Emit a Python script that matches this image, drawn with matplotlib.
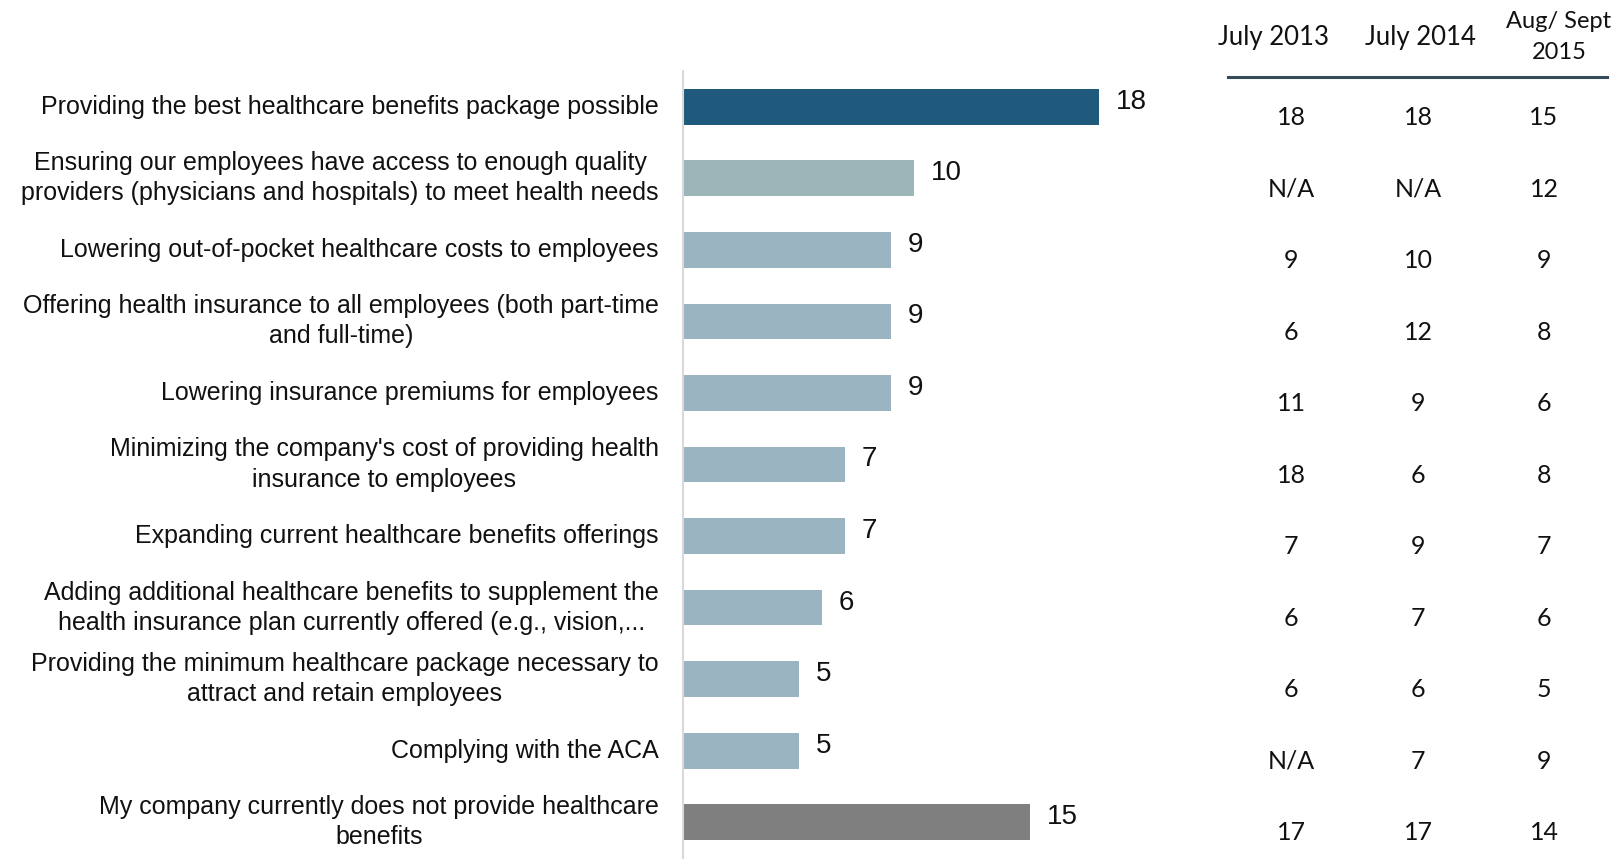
import matplotlib.pyplot as plt
from matplotlib import transforms

# Priorities for company healthcare benefits, latest wave shown as bars
categories = [
    "Providing the best healthcare benefits package possible",
    "Ensuring our employees have access to enough quality\nproviders (physicians and hospitals) to meet health needs",
    "Lowering out-of-pocket healthcare costs to employees",
    "Offering health insurance to all employees (both part-time\nand full-time)",
    "Lowering insurance premiums for employees",
    "Minimizing the company's cost of providing health\ninsurance to employees",
    "Expanding current healthcare benefits offerings",
    "Adding additional healthcare benefits to supplement the\nhealth insurance plan currently offered (e.g., vision,...",
    "Providing the minimum healthcare package necessary to\nattract and retain employees",
    "Complying with the ACA",
    "My company currently does not provide healthcare\nbenefits",
]
values = [18, 10, 9, 9, 9, 7, 7, 6, 5, 5, 15]
bar_colors = ["#1F5A7D", "#9CB5B8"] + ["#9BB4C2"] * 8 + ["#7F7F7F"]

# Trend table
waves = ["July 2013", "July 2014", "Aug/ Sept\n2015"]
july_2013 = ["18", "N/A", "9", "6", "11", "18", "7", "6", "6", "N/A", "17"]
july_2014 = ["18", "N/A", "10", "12", "9", "6", "9", "7", "6", "7", "17"]
aug_sept_2015 = ["15", "12", "9", "8", "6", "8", "7", "6", "5", "9", "14"]

W, H = 1618, 864
fig = plt.figure(figsize=(W / 100, H / 100), dpi=100)

# bar panel: zero at x=683 px, about 23.1 px per unit
ax = fig.add_axes([683 / W, 1 - 858 / H, 462 / W, (858 - 71) / H])
y = range(len(values))
ax.barh(y, values, height=0.5, color=bar_colors)
ax.set_xlim(0, 20)
ax.set_ylim(len(values) - 0.5, -0.5)

for s in ["top", "right", "bottom"]:
    ax.spines[s].set_visible(False)
ax.spines["left"].set_color("#D9D9D9")
ax.spines["left"].set_linewidth(1.5)
ax.set_xticks([])
ax.set_yticks([])

lab_font = ["Liberation Sans", "DejaVu Sans"]
for i, (cat, v) in enumerate(zip(categories, values)):
    ax.text(-1.05, i, cat, ha="right", va="center", multialignment="center",
            fontsize=18, family=lab_font, color="#111111", linespacing=1.32)
    ax.text(v + 0.75, i - 0.07, str(v), ha="left", va="center",
            fontsize=20, family=lab_font, color="#111111")

# table to the right, x in figure coords, y follows the bar rows
tr = transforms.blended_transform_factory(fig.transFigure, ax.transData)
col_x = [1291 / W, 1418 / W, 1544 / W]
head_x = [1273 / W, 1420 / W, 1559 / W]
tab_font = ["Lato", "DejaVu Sans"]
for cx, col in zip(col_x, [july_2013, july_2014, aug_sept_2015]):
    for i, val in enumerate(col):
        fig.text(cx, i + 0.15, val, transform=tr, ha="center", va="center",
                 fontsize=18, family=tab_font, color="#111111")

for hx, w in zip(head_x, waves):
    if "\n" in w:
        fig.text(hx, 1 - 37 / H, w, ha="center", va="center", fontsize=17,
                 family=tab_font, color="#111111", linespacing=1.55)
    else:
        fig.text(hx, 1 - 38 / H, w, ha="center", va="center", fontsize=18.5,
                 family=tab_font, color="#111111")

fig.add_artist(plt.Line2D([1228 / W, 1607 / W], [1 - 77 / H, 1 - 77 / H],
                          color="#354B59", linewidth=2.2))

fig.savefig("out.png", dpi=100)
